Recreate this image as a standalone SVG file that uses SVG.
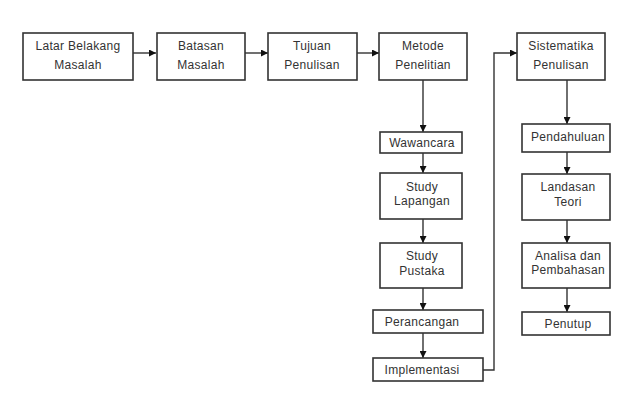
<svg xmlns="http://www.w3.org/2000/svg" width="640" height="400" viewBox="0 0 640 400">
<defs>
<marker id="ah" viewBox="0 0 10 10" refX="10" refY="5" markerWidth="7" markerHeight="7" markerUnits="userSpaceOnUse" orient="auto">
<path d="M0,0 L10,5 L0,10 z" fill="#111"/>
</marker>
</defs>
<style>
.box{fill:#fff;stroke:#333;stroke-width:1.6}
.t{font-family:"Liberation Sans",Arial,sans-serif;font-size:12px;fill:#333;text-anchor:middle;letter-spacing:0.3px}
.c{fill:none;stroke:#333;stroke-width:1.4}
</style>
<rect width="640" height="400" fill="#fff"/>
<g id="connectors">
<path class="c" d="M133,53 H156" marker-end="url(#ah)"/>
<path class="c" d="M245,53 H268" marker-end="url(#ah)"/>
<path class="c" d="M357,53 H379" marker-end="url(#ah)"/>
<path class="c" d="M423,80 V132" marker-end="url(#ah)"/>
<path class="c" d="M423,153 V173" marker-end="url(#ah)"/>
<path class="c" d="M423,219 V243" marker-end="url(#ah)"/>
<path class="c" d="M423,288 V310" marker-end="url(#ah)"/>
<path class="c" d="M423,333 V358" marker-end="url(#ah)"/>
<path class="c" d="M483,370 H494 V53 H517" marker-end="url(#ah)"/>
<path class="c" d="M567,80 V124" marker-end="url(#ah)"/>
<path class="c" d="M567,152 V174" marker-end="url(#ah)"/>
<path class="c" d="M567,220 V243" marker-end="url(#ah)"/>
<path class="c" d="M567,288 V312" marker-end="url(#ah)"/>
</g>
<g id="latar"><rect class="box" x="23" y="33" width="110" height="47"/><text class="t" x="78" y="50">Latar Belakang</text><text class="t" x="78" y="69">Masalah</text></g>
<g id="batasan"><rect class="box" x="157" y="33" width="88" height="47"/><text class="t" x="201" y="50">Batasan</text><text class="t" x="201" y="69">Masalah</text></g>
<g id="tujuan"><rect class="box" x="268" y="33" width="89" height="47"/><text class="t" x="312" y="50">Tujuan</text><text class="t" x="312" y="69">Penulisan</text></g>
<g id="metode"><rect class="box" x="379" y="33" width="88" height="47"/><text class="t" x="423" y="50">Metode</text><text class="t" x="423" y="69">Penelitian</text></g>
<g id="sistematika"><rect class="box" x="517" y="33" width="88" height="47"/><text class="t" x="561" y="50">Sistematika</text><text class="t" x="561" y="69">Penulisan</text></g>
<g id="wawancara"><rect class="box" x="380" y="132" width="82" height="21"/><text class="t" x="422" y="147">Wawancara</text></g>
<g id="studylapangan"><rect class="box" x="380" y="173" width="82" height="46"/><text class="t" x="422" y="191">Study</text><text class="t" x="422" y="205">Lapangan</text></g>
<g id="studypustaka"><rect class="box" x="380" y="243" width="82" height="45"/><text class="t" x="422" y="260">Study</text><text class="t" x="422" y="275">Pustaka</text></g>
<g id="perancangan"><rect class="box" x="373" y="310" width="110" height="23"/><text class="t" x="422" y="326">Perancangan</text></g>
<g id="implementasi"><rect class="box" x="373" y="358" width="110" height="23"/><text class="t" x="422" y="374">Implementasi</text></g>
<g id="pendahuluan"><rect class="box" x="522" y="124" width="88" height="28"/><text class="t" x="568" y="141">Pendahuluan</text></g>
<g id="landasan"><rect class="box" x="522" y="174" width="88" height="46"/><text class="t" x="568" y="191">Landasan</text><text class="t" x="568" y="206">Teori</text></g>
<g id="analisa"><rect class="box" x="522" y="243" width="88" height="45"/><text class="t" x="568" y="260">Analisa dan</text><text class="t" x="568" y="274">Pembahasan</text></g>
<g id="penutup"><rect class="box" x="522" y="312" width="88" height="23"/><text class="t" x="568" y="328">Penutup</text></g>
</svg>
